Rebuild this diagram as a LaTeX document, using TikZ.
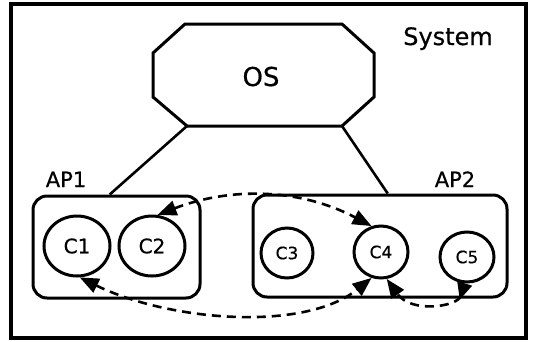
\documentclass[tikz,border=0pt]{standalone}
\usepackage{fontspec}
\setmainfont{DejaVu Sans}[FakeBold=0.6,AutoFakeBold=0.6]
\usetikzlibrary{shapes.geometric,arrows.meta,calc}
\begin{document}
\begin{tikzpicture}[x=1pt,y=-1pt,
  box/.style={draw,line width=3pt,rounded corners=14pt,inner sep=0pt},
  comp/.style={draw,ellipse,line width=3pt,inner sep=0pt},
  link/.style={line width=2.6pt},
  msg/.style={line width=2.6pt,dash pattern=on 9pt off 6pt},
  lbl/.style={inner sep=0pt,anchor=base},
  bigc/.style={font=\fontsize{20}{24}\selectfont},
  smallc/.style={font=\fontsize{17}{20}\selectfont}]
\useasboundingbox (0,0) rectangle (533,341);
\draw[line width=3.5pt] (11,4) rectangle (526,338);
\node[lbl,font=\fontsize{24}{28}\selectfont] (sys) at (448,45) {System};
% OS octagon
\coordinate (o1) at (185,24);
\coordinate (o2) at (342,24);
\coordinate (o3) at (374,53);
\coordinate (o4) at (374,97);
\coordinate (osbr) at (342,126);
\coordinate (osbl) at (187,126);
\coordinate (o7) at (153,97);
\coordinate (o8) at (153,53);
\draw[line width=3pt,line join=miter] (o1) -- (o2) -- (o3) -- (o4) -- (osbr) -- (osbl) -- (o7) -- (o8) -- cycle;
\node[lbl,font=\fontsize{26}{30}\selectfont] (os) at (261,86) {OS};
% application boxes
\node[box,minimum width=167pt,minimum height=102pt] (ap1) at (116.5,247) {};
\node[box,minimum width=254pt,minimum height=102pt] (ap2) at (380,246) {};
\node[lbl,font=\fontsize{21}{25}\selectfont] (ap1lbl) at (66,187) {AP1};
\node[lbl,font=\fontsize{21}{25}\selectfont] (ap2lbl) at (455,187) {AP2};
\draw[link] (osbl) -- ($(ap1.north west)!0.46!(ap1.north east)$);
\draw[link] (osbr) -- ($(ap2.north west)!0.53!(ap2.north east)$);
% components
\node[comp,bigc,minimum width=66pt,minimum height=60pt] (c1) at (77,246) {C1};
\node[comp,bigc,minimum width=66pt,minimum height=60pt] (c2) at (152,246) {C2};
\node[comp,smallc,minimum width=52pt,minimum height=50pt] (c3) at (287,253) {C3};
\node[comp,smallc,minimum width=54pt,minimum height=52pt] (c4) at (381,252) {C4};
\node[comp,smallc,minimum width=54pt,minimum height=50pt] (c5) at (467,257) {C5};
% messages
\draw[msg,{Triangle[length=19pt,width=15pt]}-{Triangle[length=19pt,width=15pt]}]
  (c2.80) .. controls +(73,-28) and +(-72,-38) .. (c4.110);
\draw[msg,{Triangle[length=19pt,width=15pt]}-{Triangle[length=19pt,width=15pt]}]
  (c1.-85) .. controls +(90,44) and +(-67,54) .. (c4.-110);
\draw[msg,{Triangle[length=17pt,width=15pt,reversed]}-{Triangle[length=19pt,width=15pt]}]
  (c5.-95) .. controls +(-7,23) and +(25,35) .. (c4.-78);
\end{tikzpicture}
\end{document}
